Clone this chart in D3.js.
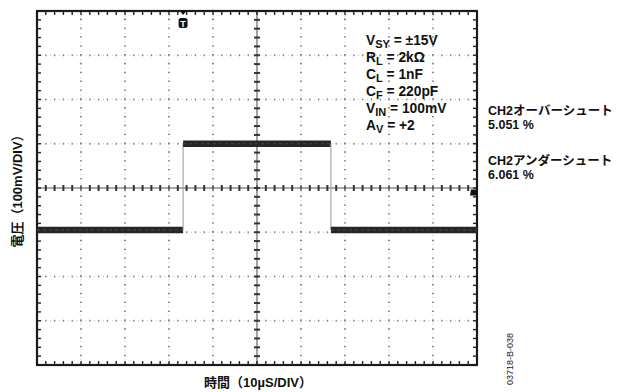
<!DOCTYPE html>
<html><head><meta charset="utf-8">
<script src="https://cdn.jsdelivr.net/npm/d3@7"></script>
<style>
html,body{margin:0;padding:0;background:#fff;}
svg{display:block;font-family:"Liberation Sans",Arial,"Noto Sans CJK JP",sans-serif;}
</style></head>
<body><svg id="c" width="628" height="392"></svg>
<script>
// ---- data ----
const timeGrid = [0,10,20,30,40,50,60,70,80,90,100];          // µs (10 µs/div)
const voltGrid = [-400,-300,-200,-100,0,100,200,300,400];      // mV (100 mV/div)
const traceTime = [0, 33.2, 33.2, 66.8, 66.8, 100];            // µs
const traceMv   = [-95, -95, 100, 100, -95, -95];              // mV
const triggerTime = 33.2;
const groundMv = -10;
const condLabels = [
  [["V",""],["SY","sub"],[" = ±15V",""]],
  [["R",""],["L","sub"],[" = 2kΩ",""]],
  [["C",""],["L","sub"],[" = 1nF",""]],
  [["C",""],["F","sub"],[" = 220pF",""]],
  [["V",""],["IN","sub"],[" = 100mV",""]],
  [["A",""],["V","sub"],[" = +2",""]]
];
const resultLabels = ["CH2オーバーシュート","5.051 %","CH2アンダーシュート","6.061 %"];
const xTitle = "時間（10µS/DIV）";
const yTitle = "電圧（100mV/DIV）";
const figId = "03718-B-038";

// ---- scales ----
const svg = d3.select("#c");
const x = d3.scaleLinear().domain([0,100]).range([37,477]);
const y = d3.scaleLinear().domain([-400,400]).range([365,11]);
const L=x(0), R=x(100), T=y(400), B=y(-400);

const g = svg.append("g");
const minorT = d3.range(0,100.01,2);
const minorV = d3.range(-400,400.01,20);
const innerT = timeGrid.filter(v=>v>0&&v<100&&v!==50);
const innerV = voltGrid.filter(v=>v>-400&&v<400&&v!==0);

// dotted grid lines
g.selectAll(".gx").data(innerT).join("line")
  .attr("x1",d=>x(d)).attr("x2",d=>x(d)).attr("y1",T).attr("y2",B)
  .attr("stroke","#c0c0c0").attr("stroke-width",1).attr("stroke-dasharray","1,3.4");
g.selectAll(".gy").data(innerV).join("line")
  .attr("y1",d=>y(d)).attr("y2",d=>y(d)).attr("x1",L).attr("x2",R)
  .attr("stroke","#c0c0c0").attr("stroke-width",1).attr("stroke-dasharray","1,3.4");
innerT.forEach(t=>{
  g.selectAll(null).data(minorV).join("line")
   .attr("x1",x(t)-1).attr("x2",x(t)+1).attr("y1",d=>y(d)-0.6).attr("y2",d=>y(d)-0.6)
   .attr("stroke","#888").attr("stroke-width",1.3);
});
innerV.forEach(v=>{
  g.selectAll(null).data(minorT).join("line")
   .attr("y1",y(v)-1).attr("y2",y(v)+1).attr("x1",d=>x(d)).attr("x2",d=>x(d))
   .attr("stroke","#888").attr("stroke-width",1.3);
});
// center axes
g.append("line").attr("x1",L).attr("x2",R).attr("y1",y(0)).attr("y2",y(0)).attr("stroke","#555").attr("stroke-width",1.1);
g.append("line").attr("x1",x(50)).attr("x2",x(50)).attr("y1",T).attr("y2",B).attr("stroke","#555").attr("stroke-width",1.1);
g.selectAll(".cx").data(minorT).join("line")
  .attr("x1",d=>x(d)).attr("x2",d=>x(d)).attr("y1",y(0)-3).attr("y2",y(0)+3)
  .attr("stroke","#333").attr("stroke-width",d=>d%10===0?1.2:2);
g.selectAll(".cy").data(minorV).join("line")
  .attr("y1",d=>y(d)).attr("y2",d=>y(d)).attr("x1",x(50)-3).attr("x2",x(50)+3)
  .attr("stroke","#333").attr("stroke-width",2);
// border ticks
g.selectAll(".bt").data(minorT).join("line")
  .attr("x1",d=>x(d)).attr("x2",d=>x(d)).attr("y1",T).attr("y2",T+4).attr("stroke","#222").attr("stroke-width",1.4);
g.selectAll(".bb").data(minorT).join("line")
  .attr("x1",d=>x(d)).attr("x2",d=>x(d)).attr("y1",B-4).attr("y2",B).attr("stroke","#222").attr("stroke-width",1.4);
g.selectAll(".bl").data(minorV).join("line")
  .attr("y1",d=>y(d)).attr("y2",d=>y(d)).attr("x1",L).attr("x2",L+4).attr("stroke","#222").attr("stroke-width",1.4);
g.selectAll(".br").data(minorV).join("line")
  .attr("y1",d=>y(d)).attr("y2",d=>y(d)).attr("x1",R-4).attr("x2",R).attr("stroke","#222").attr("stroke-width",1.4);
// frame
g.append("rect").attr("x",L).attr("y",T).attr("width",R-L).attr("height",B-T)
  .attr("fill","none").attr("stroke","#1a1a1a").attr("stroke-width",2.2);

// trace
const pts = traceTime.map((t,i)=>[t,traceMv[i]]);
const segs = d3.pairs(pts);
g.selectAll(".seg").data(segs).join("line")
  .attr("x1",d=>x(d[0][0])).attr("x2",d=>x(d[1][0]))
  .attr("y1",d=>y(d[0][1])).attr("y2",d=>y(d[1][1]))
  .attr("stroke",d=>d[0][1]===d[1][1]?"#262626":"#a0a0a0")
  .attr("stroke-width",d=>d[0][1]===d[1][1]?6.5:1.1);
g.selectAll(".segi").data(segs.filter(d=>d[0][1]===d[1][1])).join("line")
  .attr("x1",d=>x(d[0][0])).attr("x2",d=>x(d[1][0]))
  .attr("y1",d=>y(d[0][1])).attr("y2",d=>y(d[1][1]))
  .attr("stroke","#444").attr("stroke-width",1.2).attr("stroke-dasharray","3,3");

// trigger marker
const tx = x(triggerTime);
g.append("path").attr("d",`M${tx-4},${T-1} L${tx+4},${T-1} L${tx},${T+4} Z`).attr("fill","#111");
g.append("rect").attr("x",tx-4.5).attr("y",T+7).attr("width",9).attr("height",10).attr("rx",2.5).attr("fill","#111");
g.append("text").attr("x",tx).attr("y",T+15.5).attr("text-anchor","middle").attr("fill","#fff")
  .attr("font-size",9).attr("font-weight","bold").text("T");
// ground marker at right
const gy = y(groundMv);
g.append("path").attr("d",`M${R},${gy-3} L${R-6},${gy-3} L${R-7},${gy+3} L${R},${gy+3} Z`).attr("fill","#111");

// condition labels
condLabels.forEach((line,i)=>{
  const t = svg.append("text").attr("x",366).attr("y",45+i*17).attr("font-weight","bold").attr("font-size",13.8).attr("fill","#111");
  line.forEach(([s,k])=>{
    const ts = t.append("tspan").text(s);
    if(k==="sub") ts.attr("font-size",11).attr("dy",3);
    else if(s.startsWith(" ")) ts.attr("dy",-3);
  });
});

// result labels
const resY = [115,129,165,179];
resultLabels.forEach((s,i)=>{
  svg.append("text").attr("x",488).attr("y",resY[i]).attr("font-weight","bold").attr("font-size",12.5)
    .attr("fill","#111").text(s);
});

// axis titles
svg.append("text").attr("x",258).attr("y",387).attr("text-anchor","middle").attr("font-weight","bold")
  .attr("font-size",13).attr("fill","#111").text(xTitle);
svg.append("text").attr("transform","translate(22,188) rotate(-90)").attr("text-anchor","middle").attr("font-weight","bold")
  .attr("font-size",13).attr("fill","#111").text(yTitle);
svg.append("text").attr("transform","translate(513,385) rotate(-90)").attr("font-size",9)
  .attr("fill","#222").text(figId);
</script></body></html>
